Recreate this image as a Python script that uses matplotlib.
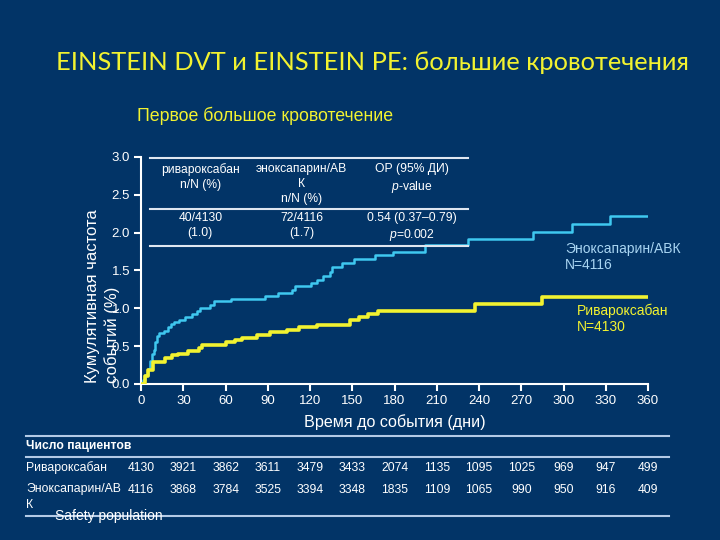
import matplotlib
matplotlib.use("Agg")
import matplotlib.pyplot as plt
import matplotlib.transforms as mtransforms

BG = "#023467"
YEL = "#f2f230"
CYAN = "#3fc8f0"
ENOX_TXT = "#a9d5f2"
WHITE = "#ffffff"

plt.rcParams["font.family"] = ["Liberation Sans", "DejaVu Sans"]
plt.rcParams["mathtext.fontset"] = "custom"
plt.rcParams["mathtext.rm"] = "Liberation Sans"
plt.rcParams["mathtext.it"] = "Liberation Sans:italic"

# step curves (days, cumulative %)
riva_days = [0, 3, 5, 8.5, 17, 22, 26, 33, 41, 43, 60, 67, 72, 82, 91.5, 103.5,
             112, 125, 148, 155, 161, 168.5, 237, 284.5, 360]
riva_vals = [0, 0.10, 0.19, 0.29, 0.34, 0.38, 0.40, 0.43, 0.47, 0.52, 0.55, 0.58,
             0.61, 0.65, 0.68, 0.71, 0.75, 0.78, 0.85, 0.89, 0.92, 0.97, 1.05, 1.15, 1.15]

enox_days = [0, 1.5, 3, 5, 6.5, 7.5, 9, 10, 11, 13, 16, 19, 21, 23, 27, 31, 36, 40,
             42, 49, 51.5, 64, 88, 97.5, 107, 109, 121, 125, 129.5, 134, 135.5,
             142.5, 151, 166, 179, 201.5, 232.5, 278.6, 306, 333, 359]
enox_vals = [0, 0.05, 0.12, 0.20, 0.30, 0.40, 0.45, 0.55, 0.63, 0.67, 0.70, 0.75,
             0.79, 0.82, 0.85, 0.89, 0.92, 0.96, 1.00, 1.04, 1.10, 1.12, 1.16, 1.20,
             1.24, 1.30, 1.34, 1.37, 1.42, 1.48, 1.54, 1.60, 1.65, 1.70, 1.74, 1.84,
             1.91, 2.01, 2.11, 2.22, 2.22]

x_ticks = [0, 30, 60, 90, 120, 150, 180, 210, 240, 270, 300, 330, 360]
y_ticks = [0.0, 0.5, 1.0, 1.5, 2.0, 2.5, 3.0]

# numbers at risk
risk_riva = [4130, 3921, 3862, 3611, 3479, 3433, 2074, 1135, 1095, 1025, 969, 947, 499]
risk_enox = [4116, 3868, 3784, 3525, 3394, 3348, 1835, 1109, 1065, 990, 950, 916, 409]

# inset summary table
tbl_head = ["ривароксабан\nn/N (%)", "эноксапарин/АВ\nК\nn/N (%)",
            "ОР (95% ДИ)\n$\\mathit{p}$-value"]
tbl_vals = ["40/4130\n(1.0)", "72/4116\n(1.7)", "0.54 (0.37–0.79)\n$\\mathit{p}$=0.002"]
tbl_cols = [42, 114, 192.5]

fig = plt.figure(figsize=(7.2, 5.4), dpi=100, facecolor=BG)
ax = fig.add_axes([0.196, 0.289, 0.704, 0.4205])
ax.set_facecolor(BG)

ax.step(enox_days, enox_vals, where="post", color=CYAN, lw=1.8, zorder=3)
ax.step(riva_days, riva_vals, where="post", color=YEL, lw=2.6, zorder=4)

ax.set_xlim(0, 360)
ax.set_ylim(0, 3.0)
ax.set_xticks(x_ticks)
ax.set_yticks(y_ticks)
ax.set_yticklabels([f"{v:.1f}" for v in y_ticks])
for s in ["top", "right"]:
    ax.spines[s].set_visible(False)
for s in ["left", "bottom"]:
    ax.spines[s].set_color(WHITE)
    ax.spines[s].set_linewidth(1.5)
ax.tick_params(colors=WHITE, labelsize=9.5, width=1.5, length=5, pad=3)

ax.set_xlabel("Время до события (дни)", color=WHITE, fontsize=11.6, va="center")
ax.xaxis.set_label_coords(0.5, -0.167)
fig.text(0.142, 0.291, "Кумулятивная частота\nсобытий (%)", rotation=90, color=WHITE,
         fontsize=12, ha="center", va="bottom", multialignment="left", linespacing=1.3)

# inset table
lc = "#dfe6f0"
ax.plot([6.4, 232], [2.99, 2.99], color=lc, lw=1.5, clip_on=False, zorder=5)
ax.plot([6.4, 232], [2.31, 2.31], color=lc, lw=1.5, clip_on=False, zorder=5)
ax.plot([6.4, 232], [1.82, 1.82], color=lc, lw=1.5, clip_on=False, zorder=5)
for xc, h, v in zip(tbl_cols, tbl_head, tbl_vals):
    ax.text(xc, 2.92, h, ha="center", va="top", color=WHITE, fontsize=8.7, linespacing=1.35)
    ax.text(xc, 2.27, v, ha="center", va="top", color=WHITE, fontsize=8.7, linespacing=1.3)

ax.text(301, 1.68, "Эноксапарин/АВК\nN=4116", color=ENOX_TXT, fontsize=10,
        ha="left", va="center")
ax.text(309.5, 0.86, "Ривароксабан\nN=4130", color=YEL, fontsize=10,
        ha="left", va="center")

# titles
fig.text(0.517, 0.885, "EINSTEIN DVT и EINSTEIN PE: большие кровотечения", color=YEL,
         fontsize=18.3, ha="center", va="center", family=["Lato", "DejaVu Sans"])
fig.text(0.19, 0.785, "Первое большое кровотечение", color=YEL, fontsize=12.8,
         ha="left", va="center")

# numbers-at-risk table
tl = "#b4cae6"
for yy in [1 - 435.7 / 540, 1 - 457.3 / 540, 1 - 515.7 / 540]:
    fig.add_artist(plt.Line2D([26 / 720, 669 / 720], [yy, yy], color=tl, lw=1.5))
fig.text(26 / 720, 1 - 446 / 540, "Число пациентов", color=WHITE, fontsize=8.7,
         fontweight="bold", ha="left", va="center")
fig.text(26 / 720, 1 - 468 / 540, "Ривароксабан", color=WHITE, fontsize=8.8,
         ha="left", va="center")
fig.text(26 / 720, 1 - 497 / 540, "Эноксапарин/АВ\nК", color=WHITE, fontsize=8.8,
         ha="left", va="center", linespacing=1.45)
blend = mtransforms.blended_transform_factory(ax.transData, fig.transFigure)
for d, a, b in zip(x_ticks, risk_riva, risk_enox):
    fig.text(d, 1 - 468 / 540, str(a), color=WHITE, fontsize=8.7, ha="center",
             va="center", transform=blend)
    fig.text(d, 1 - 490 / 540, str(b), color=WHITE, fontsize=8.7, ha="center",
             va="center", transform=blend)
fig.text(55 / 720, 1 - 516 / 540, "Safety population", color=WHITE, fontsize=10,
         ha="left", va="center")

fig.savefig("out.png", dpi=100, facecolor=BG)
